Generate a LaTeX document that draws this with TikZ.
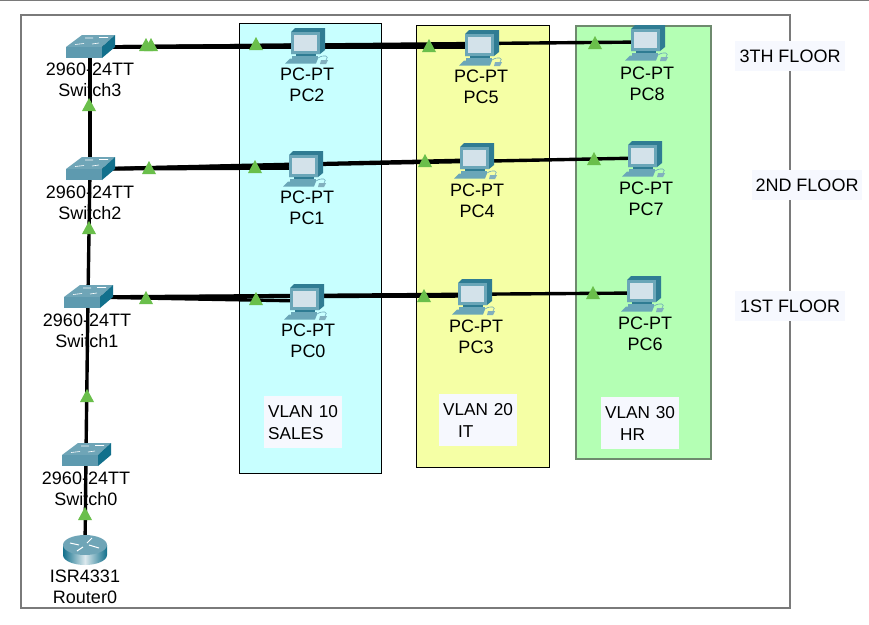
\documentclass[tikz,border=0pt]{standalone}
\usepackage{fontspec}
\setmainfont{Liberation Sans}
\definecolor{swtop}{HTML}{6FA5B7}
\definecolor{swfront}{HTML}{5E9AAF}
\definecolor{swside}{HTML}{12708C}
\definecolor{lightgreen}{HTML}{6ABF4B}
\definecolor{labelbg}{HTML}{F6F8FE}
\definecolor{framegray}{HTML}{7A7A7A}
\definecolor{pcbody}{HTML}{6AA6B8}
\definecolor{pcdark}{HTML}{2F7C93}
\definecolor{pcscreen}{HTML}{D3E2EA}
\definecolor{vcyan}{HTML}{C8FFFF}
\definecolor{vyellow}{HTML}{F5FFA5}
\definecolor{vgreen}{HTML}{B4FFB4}
\definecolor{vgreenline}{HTML}{6E8A6E}
\tikzset{
  x=1pt,y=-1pt,
  anchorpt/.style={inner sep=0pt,minimum size=20pt},
  link/.style={black,line width=3.4pt},
  vlanbox/.style={draw=black,line width=0.9pt},
  devlabel/.style={align=center,font=\fontsize{18}{21}\selectfont,inner sep=0pt,text=black},
  tag/.style={fill=labelbg,inner sep=0pt,align=left,font=\fontsize{17.2}{22}\selectfont,text=black},
  floortag/.style={fill=labelbg,inner sep=0pt,align=center,font=\fontsize{18}{22}\selectfont,text=black,minimum height=30pt},
  pics/swicon/.style={code={
    \fill[swtop] (-24,0) -- (-8,-12) -- (25,-12) -- (12,0) -- cycle;
    \fill[swfront] (-24,0) rectangle (12,11);
    \fill[swside] (12,0) -- (25,-12) -- (25,0) -- (12,11) -- cycle;
    \draw[white,line width=0.6pt] (-15,-2.5) -- (-6,-3.5) (2,-3) -- (9,-4) (-5,-9) -- (3,-9) (9,-9.5) -- (18,-9.5);
  }},
  pics/pcicon/.style={code={
    \fill[pcdark] (-10,-17) -- (20,-17) -- (20,5) -- (15,9) -- (-14,9) -- (-14,-13) -- cycle;
    \fill[pcbody] (-14,-13) rectangle (15,9);
    \fill[pcscreen] (-11,-10) rectangle (12,6);
    \fill[pcdark] (-9,9) rectangle (11,11);
    \fill[pcbody] (-13,11) rectangle (13,13.5);
    \fill[pcbody] (-15,13.5) -- (13,13.5) -- (11,18.5) -- (-20,18.5) -- cycle;
    \fill[pcdark!60] (16,15) -- (23,15) -- (21,19) -- (15,19) -- cycle;
    \draw[pcbody,line width=0.6pt] (13,13) .. controls (19,9) and (25,11) .. (21,15);
  }},
  pics/routericon/.style={code={
    \shade[left color=swside,right color=swside,middle color=white!75!swtop] (-22,-5) -- (-22,5) arc[start angle=180,end angle=0,x radius=22,y radius=10] -- (22,-5) -- cycle;
    \fill[swtop] (0,-5) ellipse[x radius=22,y radius=10];
    \draw[white,line width=1pt] (-15,-7) -- (-6,-5) (4,-5) -- (14,-2) (-2,-3) -- (-8,1) (2,-7) -- (7,-12);
  }}
}
\newcommand{\tri}[2]{\fill[lightgreen] (#1,#2-7) -- (#1+7,#2+6) -- (#1-7,#2+6) -- cycle;}
\begin{document}
\begin{tikzpicture}
\useasboundingbox (0,0) rectangle (869,624);
\fill[white] (0,0) rectangle (869,624);
\draw[framegray,line width=1pt] (0,0.5) -- (869,0.5);
\draw[framegray,line width=2pt,fill=white] (21,15) rectangle (790,608);
% VLAN boxes
\path[vlanbox,fill=vcyan] (239.5,23) rectangle (381.5,473);
\path[vlanbox,fill=vyellow] (416.5,25) rectangle (549.5,467);
\path[draw=vgreenline,line width=1.3pt,fill=vgreen] (576,26) rectangle (711,459);
% tags
\node[tag,minimum width=78pt,minimum height=52pt,anchor=north west,text width=74pt,inner xsep=2pt,xshift=0pt] (t10) at (264,396) {\hspace*{2pt}VLAN 10\\\hspace*{2pt}SALES};
\node[tag,minimum width=78pt,minimum height=52pt,anchor=north west,text width=74pt,inner xsep=2pt] (t20) at (439,394) {\hspace*{2pt}VLAN 20\\\hspace*{17pt}IT};
\node[tag,minimum width=78pt,minimum height=52pt,anchor=north west,text width=74pt,inner xsep=2pt] (t30) at (601,397) {\hspace*{2pt}VLAN 30\\\hspace*{17pt}HR};
\node[floortag,minimum width=110pt] (f3) at (790,56) {3TH FLOOR};
\node[floortag,minimum width=110pt] (f2) at (807,185) {2ND FLOOR};
\node[floortag,minimum width=110pt] (f1) at (790,306) {1ST FLOOR};
% device anchors
\node[anchorpt] (sw3) at (90,47) {};
\node[anchorpt] (sw2) at (90,169) {};
\node[anchorpt] (sw1) at (88,297) {};
\node[anchorpt] (sw0) at (86,455) {};
\node[anchorpt] (r0) at (85,550) {};
\node[anchorpt] (pc2) at (305,45) {};
\node[anchorpt] (pc5) at (479,47) {};
\node[anchorpt] (pc8) at (645,42) {};
\node[anchorpt] (pc1) at (303,168) {};
\node[anchorpt] (pc4) at (474,160) {};
\node[anchorpt] (pc7) at (642,158) {};
\node[anchorpt] (pc0) at (304,301) {};
\node[anchorpt] (pc3) at (472,296) {};
\node[anchorpt] (pc6) at (641,293) {};
% connectors
\draw[link] (r0.center) -- (sw0.center);
\draw[link] (sw0.center) -- (sw1.center);
\draw[link] (sw1.center) -- (sw2.center);
\draw[link] (sw2.center) -- (sw3.center);
\foreach \s/\p in {sw3/pc2,sw3/pc5,sw3/pc8,sw2/pc1,sw2/pc4,sw2/pc7,sw1/pc0,sw1/pc3,sw1/pc6}{
  \draw[link] (\s.center) -- (\p.center);
}
% link lights
\tri{146}{45}\tri{151}{45}\tri{256}{44}\tri{429}{46}\tri{595}{43}
\tri{149}{168}\tri{255}{167}\tri{425}{161}\tri{594}{159}
\tri{146}{298}\tri{256}{299}\tri{424}{296}\tri{593}{293}
\tri{89}{105}\tri{89}{228}\tri{87}{396}\tri{85}{514}
% icons
\foreach \n in {sw3,sw2,sw1,sw0}{\pic at (\n.center) {swicon};}
\foreach \n in {pc2,pc5,pc8,pc1,pc4,pc7,pc0,pc3,pc6}{\pic at (\n.center) {pcicon};}
\pic at (r0.center) {routericon};
% labels
\node[devlabel] (l3) at (90,80) {2960-24TT\\Switch3};
\node[devlabel] (l2) at (90,203) {2960-24TT\\Switch2};
\node[devlabel] (l1) at (87,331) {2960-24TT\\Switch1};
\node[devlabel] (l0) at (86,489) {2960-24TT\\Switch0};
\node[devlabel] (lr) at (85,587) {ISR4331\\Router0};
\node[devlabel] (lp2) at (307,85) {PC-PT\\PC2};
\node[devlabel] (lp5) at (481,87) {PC-PT\\PC5};
\node[devlabel] (lp8) at (647,84) {PC-PT\\PC8};
\node[devlabel] (lp1) at (307,208) {PC-PT\\PC1};
\node[devlabel] (lp4) at (477,201) {PC-PT\\PC4};
\node[devlabel] (lp7) at (646,199) {PC-PT\\PC7};
\node[devlabel] (lp0) at (308,341) {PC-PT\\PC0};
\node[devlabel] (lp3) at (476,337) {PC-PT\\PC3};
\node[devlabel] (lp6) at (645,334) {PC-PT\\PC6};
\end{tikzpicture}
\end{document}
